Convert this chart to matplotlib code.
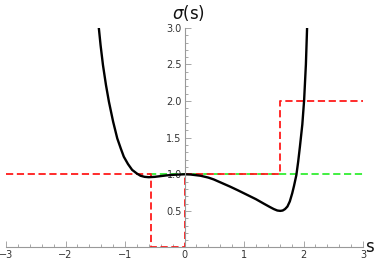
import matplotlib
matplotlib.use('Agg')
import matplotlib.pyplot as plt
from matplotlib.ticker import MultipleLocator

# curve sigma(s)
s_vals = [-1.44, -1.41, -1.37, -1.32, -1.27, -1.20, -1.13, -1.07, -1.02, -0.95,
          -0.88, -0.80, -0.74, -0.67, -0.60, -0.50, -0.40, -0.30, -0.18, 0.0,
          0.10, 0.27, 0.40, 0.49, 0.63, 0.77, 0.90, 1.05, 1.20, 1.33, 1.43,
          1.50, 1.56, 1.61, 1.65, 1.69, 1.73, 1.77, 1.81, 1.84, 1.88, 1.91,
          1.94, 1.98, 2.01, 2.04, 2.06]
sigma_vals = [3.00, 2.76, 2.49, 2.22, 1.99, 1.72, 1.49, 1.35, 1.24, 1.14,
              1.06, 1.01, 0.98, 0.965, 0.96, 0.965, 0.975, 0.985, 0.993, 1.00,
              0.997, 0.98, 0.955, 0.93, 0.88, 0.83, 0.78, 0.72, 0.66, 0.60, 0.555,
              0.525, 0.505, 0.50, 0.505, 0.525, 0.56, 0.63, 0.74, 0.84, 0.99, 1.17,
              1.38, 1.68, 2.01, 2.50, 3.00]

# red step function
step_s = [-3, -0.57, -0.57, 0, 0, 1.6, 1.6, 3]
step_v = [1, 1, 0, 0, 1, 1, 2, 2]

# green reference level
ref_s = [-0.6, 3]
ref_v = [1, 1]

fig = plt.figure(figsize=(3.82, 2.63), dpi=100)
ax = fig.add_axes([0.0157, 0.059, 0.9346, 0.835])

ax.plot(ref_s, ref_v, '--', color='#33ee33', linewidth=1.3, dashes=(4, 2))
ax.plot(step_s, step_v, '--', color='#ff1a1a', linewidth=1.3, dashes=(4, 2))
ax.plot(s_vals, sigma_vals, color='black', linewidth=1.7, solid_joinstyle='round')

ax.set_xlim(-3, 3)
ax.set_ylim(0, 3)

for side in ['top', 'right']:
    ax.spines[side].set_visible(False)
ax.spines['left'].set_position(('data', 0))
ax.spines['bottom'].set_position(('data', 0))
ax.spines['left'].set_color('#999999')
ax.spines['bottom'].set_color('#999999')

ax.xaxis.set_minor_locator(MultipleLocator(0.2))
ax.yaxis.set_minor_locator(MultipleLocator(0.1))
ax.set_xticks([-3, -2, -1, 0, 1, 2, 3])
ax.set_xticklabels(['\u22123', '\u22122', '\u22121', '0', '1', '2', '3'])
ax.set_yticks([0.5, 1.0, 1.5, 2.0, 2.5, 3.0])
ax.set_yticklabels(['0.5', '1.0', '1.5', '2.0', '2.5', '3.0'])

ax.tick_params(which='both', direction='in', color='#999999', labelcolor='#333333',
               labelsize=7, width=0.6)
ax.tick_params(which='major', length=4, pad=2)
ax.tick_params(which='minor', length=2.5)

ax.text(3.03, 0.0, 's', fontsize=12, color='#111111', va='center', ha='left')
ax.text(0.07, 3.06, r'$\sigma$(s)', fontsize=12, color='#111111', va='bottom', ha='center')

plt.savefig('out.png', dpi=100)
